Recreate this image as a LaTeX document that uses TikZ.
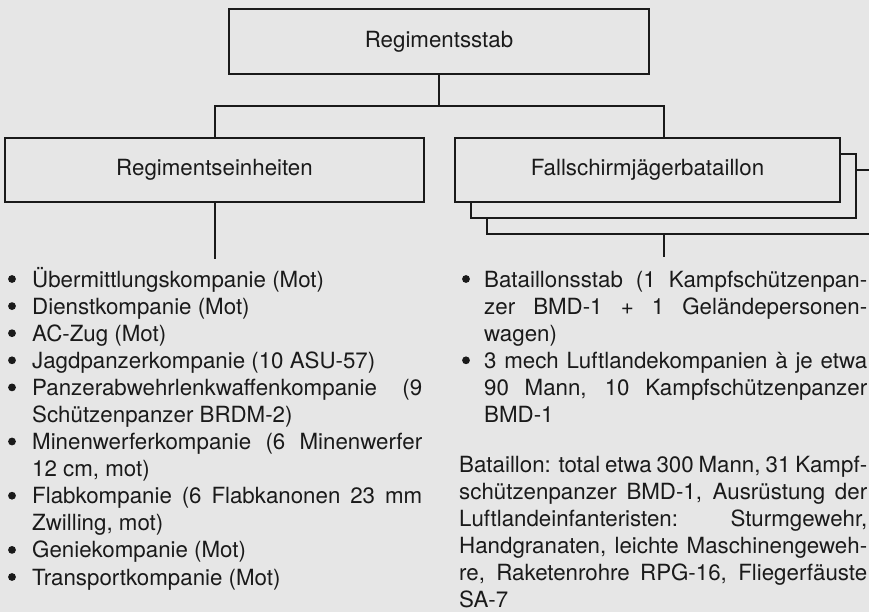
\documentclass[tikz,border=0pt]{standalone}
\usepackage{fontspec}
\setmainfont{TeX Gyre Heros}
\definecolor{bg}{HTML}{E6E6E6}
\definecolor{ink}{HTML}{1A1A1A}
\newcommand{\Jst}[2]{\makebox[#1][s]{#2}}
\begin{document}
\begin{tikzpicture}[x=1pt,y=-1pt,
  box/.style={draw=ink, line width=2pt, fill=bg, text=ink, inner sep=0pt,
    font=\fontsize{22.3}{27}\selectfont},
  ln/.style={anchor=base west, inner sep=0pt, text=ink,
    font=\fontsize{22.3}{27}\selectfont},
  conn/.style={draw=ink, line width=2pt},
  dot/.style={fill=ink}]
\fill[bg] (0,0) rectangle (869,612);
\useasboundingbox (0,0) rectangle (869,612);

% boxes
\node[box, minimum width=420pt, minimum height=65pt] (stab) at (439,41.5) {Regimentsstab};
\node[box, minimum width=419pt, minimum height=64pt] (einh) at (214.5,170) {Regimentseinheiten};
\node[box, minimum width=385pt, minimum height=64pt] (fsj3) at (679.5,202) {};
\node[box, minimum width=385pt, minimum height=64pt] (fsj2) at (663.5,186) {};
\node[box, minimum width=385pt, minimum height=64pt] (fsj) at (647.5,170) {Fallschirmjägerbataillon};

% connectors
\coordinate (bar) at (0,106);
\draw[conn] (stab.south) -- (stab.south |- bar);
\draw[conn] (einh.north) -- (einh.north |- bar) -- (fsj2.north |- bar) -- (fsj2.north |- fsj.north);
\path (einh.south) ++(0,56) coordinate (lend);
\draw[conn] (einh.south) -- (lend);
\path (fsj3.south -| fsj2.south) ++(0,22) coordinate (rend);
\draw[conn] (fsj3.south -| fsj2.south) -- (rend);

% left list
\node[ln] (l1)  at (32,287)   {Übermittlungskompanie (Mot)};
\node[ln] (l2)  at (32,314.1) {Dienstkompanie (Mot)};
\node[ln] (l3)  at (32,341.2) {AC-Zug (Mot)};
\node[ln] (l4)  at (32,368.3) {Jagdpanzerkompanie (10 ASU-57)};
\node[ln] (l5)  at (32,395.4) {\Jst{390pt}{Panzerabwehrlenkwaffenkompanie (9}};
\node[ln] (l6)  at (32,422.5) {Schützenpanzer BRDM-2)};
\node[ln] (l7)  at (32,449.5) {\Jst{390pt}{Minenwerferkompanie (6 Minenwerfer}};
\node[ln] (l8)  at (32,476.6) {12 cm, mot)};
\node[ln] (l9)  at (32,503.7) {\Jst{390pt}{Flabkompanie (6 Flabkanonen 23 mm}};
\node[ln] (l10) at (32,530.8) {Zwilling, mot)};
\node[ln] (l11) at (32,557.9) {Geniekompanie (Mot)};
\node[ln] (l12) at (32,585)   {Transportkompanie (Mot)};
\foreach \n in {l1,l2,l3,l4,l5,l7,l9,l11,l12}
  \fill[dot] (\n.base west) ++(-20,-8) circle (3.9pt);

% right list
\node[ln] (r1) at (484,287)   {\Jst{383pt}{Bataillonsstab (1 Kampfschützenpan-}};
\node[ln] (r2) at (484,314.1) {\Jst{383pt}{zer BMD-1 + 1 Geländepersonen-}};
\node[ln] (r3) at (484,341.2) {wagen)};
\node[ln] (r4) at (484,368.3) {\Jst{383pt}{3 mech Luftlandekompanien à je etwa}};
\node[ln] (r5) at (484,395.4) {\Jst{383pt}{90 Mann, 10 Kampfschützenpanzer}};
\node[ln] (r6) at (484,422.5) {BMD-1};
\foreach \n in {r1,r4}
  \fill[dot] (\n.base west) ++(-18,-8) circle (3.9pt);

% paragraph
\node[ln] (p1) at (459,472.5) {\Jst{408pt}{Bataillon: total etwa 300 Mann, 31 Kampf-}};
\node[ln] (p2) at (459,499.5) {\Jst{408pt}{schützenpanzer BMD-1, Ausrüstung der}};
\node[ln] (p3) at (459,526.5) {\Jst{408pt}{Luftlandeinfanteristen: Sturmgewehr,}};
\node[ln] (p4) at (459,553.5) {\Jst{408pt}{Handgranaten, leichte Maschinengeweh-}};
\node[ln] (p5) at (459,580.5) {\Jst{408pt}{re, Raketenrohre RPG-16, Fliegerfäuste}};
\node[ln] (p6) at (459,607)   {SA-7};
\end{tikzpicture}
\end{document}
